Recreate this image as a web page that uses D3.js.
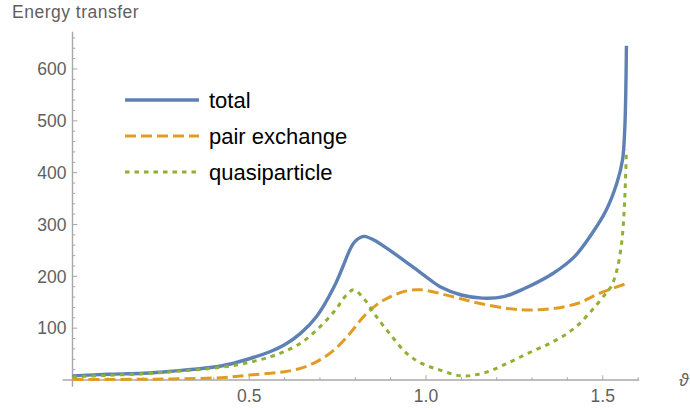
<!DOCTYPE html>
<html>
<head>
<meta charset="utf-8">
<script src="https://cdn.jsdelivr.net/npm/d3@7"></script>
<style>
  html, body { margin: 0; padding: 0; background: #fff; }
  svg { display: block; font-family: "Liberation Sans", Arial, sans-serif; }
</style>
</head>
<body>
<svg id="chart" width="690" height="410"></svg>
<script>
// Energy transfer versus angle ϑ, split into its two contributions.
const totalTheta = [0, 0.1, 0.2, 0.28, 0.42, 0.50, 0.56, 0.60, 0.645, 0.69, 0.74, 0.765, 0.785, 0.795, 0.805, 0.814, 0.826, 0.85, 0.90, 0.955, 1.01, 1.04, 1.10, 1.16, 1.22, 1.28, 1.36, 1.42, 1.47, 1.51, 1.54, 1.556, 1.562, 1.565, 1.567];
const totalValues = [8, 11, 13, 17, 27, 41, 55, 68, 90, 122, 180, 219, 252, 264, 271, 275, 277, 271, 249, 222, 194, 180, 164, 158, 161, 177, 206, 238, 283, 328, 380, 425, 480, 550, 645];

const pairTheta = [0, 0.1, 0.2, 0.28, 0.42, 0.50, 0.56, 0.60, 0.645, 0.69, 0.74, 0.785, 0.823, 0.86, 0.90, 0.945, 0.985, 1.08, 1.15, 1.23, 1.29, 1.36, 1.43, 1.49, 1.567];
const pairValues = [1, 1, 1.5, 2, 4.5, 9.5, 13, 16, 22.5, 35, 58, 90, 122, 145, 161, 172, 174, 160, 148, 138, 135, 138, 148, 167, 186];

const quasiTheta = [0, 0.1, 0.2, 0.28, 0.42, 0.50, 0.56, 0.60, 0.645, 0.69, 0.74, 0.775, 0.795, 0.823, 0.86, 0.90, 0.945, 0.985, 1.04, 1.10, 1.16, 1.22, 1.29, 1.36, 1.42, 1.47, 1.51, 1.525, 1.54, 1.553, 1.56, 1.564, 1.567];
const quasiValues = [6, 9, 12, 16, 24.5, 34, 45, 55, 71, 96, 132, 164, 174, 158, 122, 87, 51.5, 33, 19, 8, 13, 29, 52, 74, 100, 135, 168, 182, 212, 262, 320, 380, 445];

const seriesNames = ["total", "pair exchange", "quasiparticle"];
const seriesColors = ["#5E81B5", "#E19C24", "#8FB032"];

const yTickValues = [100, 200, 300, 400, 500, 600];
const xTickValues = [0.5, 1.0, 1.5];
const xTickLabels = ["0.5", "1.0", "1.5"];

const svg = d3.select("#chart");

const x = d3.scaleLinear().domain([0, 1]).range([72.5, 426]);
const y = d3.scaleLinear().domain([0, 600]).range([380, 69]);

const axisColor = "#a8a8a8";
const labelColor = "#5f5f5f";

// axes lines crossing at the origin, with a little padding past it
const xMin = -0.028, xMax = 1.603, yMin = -13, yMax = 672;
svg.append("line")
  .attr("x1", x(xMin)).attr("x2", x(xMax))
  .attr("y1", y(0)).attr("y2", y(0))
  .attr("stroke", axisColor).attr("stroke-width", 1.4);
svg.append("line")
  .attr("x1", x(0)).attr("x2", x(0))
  .attr("y1", y(yMin)).attr("y2", y(yMax))
  .attr("stroke", axisColor).attr("stroke-width", 1.4);

// y ticks: majors every 100, minors every 20, pointing into the plot
const yMinor = d3.range(20, 672, 20).filter(v => v % 100 !== 0);
svg.append("g").selectAll("line").data(yMinor).join("line")
  .attr("x1", x(0)).attr("x2", x(0) + 2.8)
  .attr("y1", d => y(d)).attr("y2", d => y(d))
  .attr("stroke", axisColor).attr("stroke-width", 1);
svg.append("g").selectAll("line").data(yTickValues).join("line")
  .attr("x1", x(0)).attr("x2", x(0) + 4.8)
  .attr("y1", d => y(d)).attr("y2", d => y(d))
  .attr("stroke", axisColor).attr("stroke-width", 1);
svg.append("g").selectAll("text").data(yTickValues).join("text")
  .attr("x", x(0) - 6).attr("y", d => y(d))
  .attr("dy", "0.36em")
  .attr("text-anchor", "end")
  .attr("font-size", 17.5)
  .attr("fill", labelColor)
  .text(d => d);

// x ticks: majors every 0.5, minors every 0.1
const xMinor = d3.range(1, 17).map(i => i / 10).filter(v => Math.abs(v * 2 - Math.round(v * 2)) > 1e-9);
svg.append("g").selectAll("line").data(xMinor).join("line")
  .attr("x1", d => x(d)).attr("x2", d => x(d))
  .attr("y1", y(0)).attr("y2", y(0) - 2.8)
  .attr("stroke", axisColor).attr("stroke-width", 1);
svg.append("g").selectAll("line").data(xTickValues).join("line")
  .attr("x1", d => x(d)).attr("x2", d => x(d))
  .attr("y1", y(0)).attr("y2", y(0) - 4.8)
  .attr("stroke", axisColor).attr("stroke-width", 1);
svg.append("g").selectAll("text").data(xTickValues).join("text")
  .attr("x", d => x(d)).attr("y", y(0) + 22)
  .attr("text-anchor", "middle")
  .attr("font-size", 17.5)
  .attr("fill", labelColor)
  .text((d, i) => xTickLabels[i]);

// axis labels
svg.append("text")
  .attr("x", 12).attr("y", 18)
  .attr("font-size", 17.5)
  .attr("letter-spacing", 0.5)
  .attr("fill", labelColor)
  .text("Energy transfer");
svg.append("text")
  .attr("x", 679).attr("y", y(0) + 6)
  .attr("font-size", 17.5)
  .attr("font-style", "italic")
  .attr("fill", labelColor)
  .text("ϑ");

// curves
const line = d3.line()
  .x(d => x(d[0]))
  .y(d => y(d[1]))
  .curve(d3.curveCatmullRom.alpha(0.5));

const series = [
  { name: seriesNames[0], color: seriesColors[0], dash: null, width: 3.4, pts: d3.zip(totalTheta, totalValues) },
  { name: seriesNames[1], color: seriesColors[1], dash: "11,5", width: 3, pts: d3.zip(pairTheta, pairValues) },
  { name: seriesNames[2], color: seriesColors[2], dash: "4.5,5", width: 3, pts: d3.zip(quasiTheta, quasiValues) }
];

svg.append("g").selectAll("path").data(series).join("path")
  .attr("d", d => line(d.pts))
  .attr("fill", "none")
  .attr("stroke", d => d.color)
  .attr("stroke-width", d => d.width)
  .attr("stroke-dasharray", d => d.dash)
  .attr("stroke-linejoin", "round");

// legend
const legend = svg.append("g");
const legendRows = legend.selectAll("g").data(series).join("g")
  .attr("transform", (d, i) => `translate(125, ${100 + i * 36})`);
legendRows.append("line")
  .attr("x1", 0).attr("x2", 74)
  .attr("stroke", d => d.color)
  .attr("stroke-width", d => d.width)
  .attr("stroke-dasharray", d => d.dash);
legendRows.append("text")
  .attr("x", 84).attr("dy", "0.35em")
  .attr("font-size", 22)
  .attr("fill", "#000")
  .text(d => d.name);
</script>
</body>
</html>
